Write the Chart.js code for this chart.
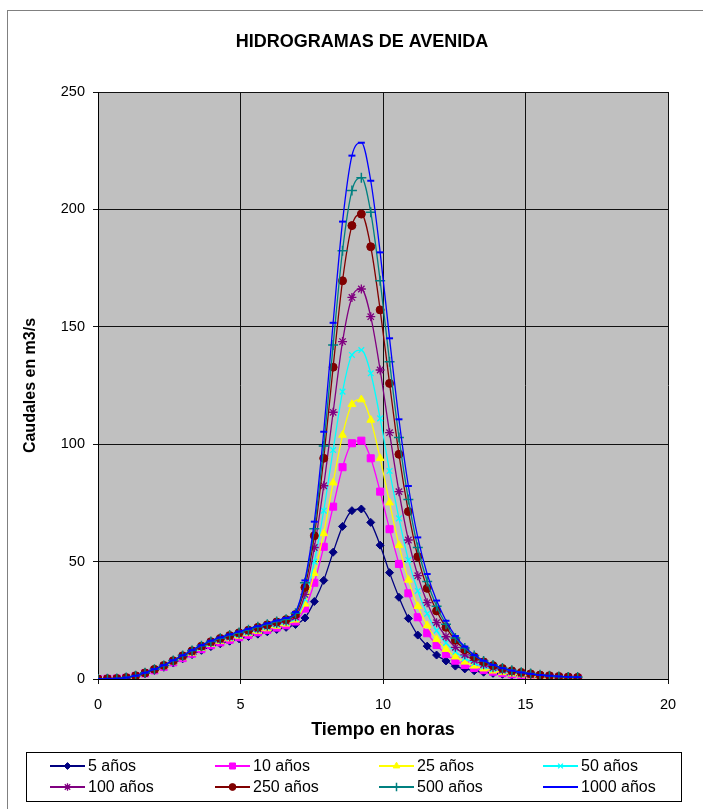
<!DOCTYPE html>
<html>
<head>
<meta charset="utf-8">
<script src="https://cdn.jsdelivr.net/npm/chart.js@4/dist/chart.umd.min.js"></script>
<style>
  html, body { margin: 0; padding: 0; background: #fff; }
  #wrap { width: 703px; height: 809px; }
</style>
</head>
<body>
<div id="wrap"><canvas id="hidro" width="703" height="809"></canvas></div>
<script>
const horas = [0, 0.33, 0.66, 0.99, 1.32, 1.65, 1.98, 2.31, 2.64, 2.97, 3.3, 3.63, 3.96, 4.29, 4.62, 4.95,
  5.28, 5.61, 5.94, 6.27, 6.6, 6.93, 7.26, 7.59, 7.92, 8.25, 8.58, 8.91, 9.24, 9.57, 9.9, 10.23, 10.56,
  10.89, 11.22, 11.55, 11.88, 12.21, 12.54, 12.87, 13.2, 13.53, 13.86, 14.19, 14.52, 14.85, 15.18, 15.51,
  15.84, 16.17, 16.5, 16.83];

const q5 = [0, 0.1, 0.2, 0.5, 1.2, 2.3, 3.6, 5.0, 6.8, 8.6, 10.4, 12.2, 13.8, 15.0, 16.1, 17.1, 18.1, 19.1, 20.1, 21.1, 22.0,
  23.2, 26.0, 33.0, 42.0, 54.0, 65.0, 71.7, 72.4, 66.7, 57.0, 45.3, 34.8, 25.8,
  18.7, 14.0, 10.2, 7.7, 5.5, 4.3, 3.5, 2.9, 2.4, 2.0, 1.6, 1.3, 1.0, 0.8, 0.6, 0.5, 0.4, 0.3];
const q10 = [0, 0.1, 0.2, 0.5, 1.2, 2.4, 3.7, 5.2, 7.1, 8.9, 10.8, 12.7, 14.4, 15.6, 16.7, 17.8, 18.8, 19.9, 20.9, 21.9, 22.9,
  24.5, 30.0, 41.0, 56.3, 73.4, 90.2, 100.4, 101.5, 94.0, 79.8, 63.8, 49.0,
  36.5, 26.3, 19.5, 14.5, 10.6, 7.8, 6.0, 4.7, 3.8, 3.1, 2.5, 2.0, 1.6, 1.3, 1.0, 0.8, 0.6, 0.5, 0.4];
const q25 = [0, 0.1, 0.2, 0.5, 1.3, 2.5, 3.9, 5.4, 7.3, 9.2, 11.1, 13.1, 14.8, 16.1, 17.2, 18.3, 19.4, 20.4, 21.5, 22.6, 23.5,
  25.2, 32.0, 45.0, 62.0, 83.6, 103.9, 117.0, 119.0, 110.3, 94.0, 75.1, 57.0,
  42.2, 31.0, 22.8, 16.9, 12.7, 9.5, 7.3, 5.6, 4.4, 3.5, 2.8, 2.2, 1.8, 1.4, 1.1, 0.9, 0.7, 0.5, 0.4];
const q50 = [0, 0.1, 0.2, 0.5, 1.3, 2.5, 3.9, 5.5, 7.4, 9.4, 11.3, 13.3, 15.0, 16.4, 17.5, 18.6, 19.7, 20.8, 21.9, 23.0, 24.0,
  25.8, 34.0, 50.0, 71.7, 97.5, 122.4, 138.0, 140.1, 130.2, 111.0, 88.6, 68.4,
  50.7, 37.5, 27.8, 20.6, 15.4, 11.6, 8.8, 6.8, 5.3, 4.2, 3.3, 2.6, 2.1, 1.7, 1.3, 1.0, 0.8, 0.6, 0.5];
const q100 = [0, 0.1, 0.2, 0.6, 1.3, 2.6, 4.0, 5.6, 7.6, 9.6, 11.6, 13.7, 15.5, 16.8, 18.0, 19.2, 20.3, 21.4, 22.5, 23.6, 24.6,
  26.5, 36.0, 56.0, 82.3, 113.6, 143.7, 162.5, 166.1, 154.3, 131.6, 104.9, 79.8,
  59.2, 44.0, 32.5, 24.0, 18.0, 13.5, 10.3, 7.9, 6.1, 4.8, 3.8, 3.0, 2.4, 1.9, 1.5, 1.2, 0.9, 0.7, 0.6];
const q250 = [0, 0.1, 0.2, 0.6, 1.4, 2.6, 4.1, 5.8, 7.8, 9.9, 12.0, 14.0, 15.9, 17.3, 18.5, 19.7, 20.8, 22.0, 23.1, 24.3, 25.3,
  27.5, 39.0, 61.0, 94.0, 132.8, 169.6, 193.1, 198.0, 184.1, 157.2, 125.9, 95.7,
  71.3, 52.1, 38.6, 29.0, 22.0, 16.5, 12.5, 9.5, 7.3, 5.7, 4.5, 3.5, 2.8, 2.2, 1.7, 1.4, 1.1, 0.9, 0.7];
const q500 = [0, 0.1, 0.2, 0.6, 1.4, 2.7, 4.2, 5.8, 7.9, 10.0, 12.1, 14.2, 16.0, 17.4, 18.7, 19.8, 21.0, 22.2, 23.3, 24.5, 25.5,
  28.0, 41.0, 64.0, 99.2, 142.2, 182.4, 208.0, 213.5, 198.8, 169.6, 135.1, 102.9,
  76.5, 56.0, 41.5, 31.0, 23.3, 17.5, 13.2, 10.0, 7.7, 6.0, 4.7, 3.7, 2.9, 2.3, 1.8, 1.4, 1.1, 0.9, 0.8];
const q1000 = [0, 0.1, 0.2, 0.6, 1.4, 2.7, 4.2, 5.9, 8.0, 10.1, 12.3, 14.4, 16.3, 17.7, 19.0, 20.2, 21.4, 22.5, 23.7, 24.9, 26.0,
  28.5, 42.0, 67.0, 105.3, 151.7, 194.8, 222.9, 228.4, 212.2, 181.7, 145.1, 110.6,
  82.2, 60.3, 44.7, 33.4, 24.8, 18.3, 13.8, 10.2, 7.8, 6.0, 4.6, 3.6, 2.8, 2.2, 1.7, 1.4, 1.1, 0.9, 0.8];

const etiquetas = ['5 años', '10 años', '25 años', '50 años', '100 años', '250 años', '500 años', '1000 años'];
const series = [q5, q10, q25, q50, q100, q250, q500, q1000];
const colores = ['#000080', '#FF00FF', '#FFFF00', '#00FFFF', '#800080', '#800000', '#008080', '#0000FF'];
const marcas = ['rectRot', 'rect', 'triangle', 'crossRot', 'star', 'circle', 'cross', 'line'];
const radios = [4, 5, 4.5, 4, 4.5, 4, 5, 3.5];
const bordes = [1, 1, 1, 1.3, 1.3, 1, 1.5, 2];

const FONT = '"Liberation Sans", Arial, sans-serif';
Chart.defaults.font.family = FONT;
Chart.defaults.color = '#000';

// legend layout (4 columns x 2 rows inside a framed box)
const legCols = [50, 215, 379, 543];
const legRows = [766, 787];

const decor = {
  id: 'decor',
  beforeDraw(chart) {
    const { ctx, chartArea: a } = chart;
    ctx.save();
    ctx.fillStyle = '#fff';
    ctx.fillRect(0, 0, chart.width, chart.height);
    ctx.strokeStyle = '#808080';
    ctx.lineWidth = 1;
    ctx.strokeRect(7.5, 10.5, 760, 860);
    ctx.fillStyle = '#C0C0C0';
    ctx.fillRect(a.left, a.top, a.right - a.left, a.bottom - a.top);
    ctx.restore();
  },
  afterDraw(chart) {
    const ctx = chart.ctx;
    ctx.save();
    // title
    ctx.fillStyle = '#000';
    ctx.font = 'bold 18px ' + FONT;
    ctx.textAlign = 'center';
    ctx.textBaseline = 'middle';
    ctx.fillText('HIDROGRAMAS DE AVENIDA', 362, 42);

    // legend box
    ctx.strokeStyle = '#000';
    ctx.lineWidth = 1;
    ctx.strokeRect(26.5, 752.5, 655, 49);
    ctx.font = '16px ' + FONT;
    ctx.textAlign = 'left';
    chart.data.datasets.forEach((ds, i) => {
      const x0 = legCols[i % 4];
      const y = legRows[Math.floor(i / 4)];
      ctx.strokeStyle = ds.borderColor;
      ctx.lineWidth = 2;
      ctx.beginPath();
      ctx.moveTo(x0, y);
      ctx.lineTo(x0 + 35, y);
      ctx.stroke();
      ctx.fillStyle = ds.pointBackgroundColor;
      ctx.strokeStyle = ds.pointBorderColor;
      ctx.lineWidth = ds.pointBorderWidth;
      Chart.helpers.drawPoint(ctx, {
        pointStyle: ds.pointStyle, rotation: 0,
        radius: ds.pointRadius * 0.85, borderWidth: ds.pointBorderWidth
      }, x0 + 17.5, y);
      ctx.fillStyle = '#000';
      ctx.fillText(ds.label, x0 + 38, y + 1);
    });
    ctx.restore();
  }
};

const datasets = series.map((vals, i) => ({
  label: etiquetas[i],
  data: horas.map((t, k) => ({ x: t, y: vals[k] })),
  borderColor: colores[i],
  borderWidth: 1.3,
  pointStyle: marcas[i],
  pointRadius: radios[i],
  pointBackgroundColor: colores[i],
  pointBorderColor: colores[i],
  pointBorderWidth: bordes[i],
  cubicInterpolationMode: 'monotone',
  fill: false,
  order: series.length - i
}));

new Chart(document.getElementById('hidro').getContext('2d'), {
  type: 'line',
  data: { datasets },
  options: {
    responsive: false,
    animation: false,
    devicePixelRatio: 1,
    layout: { padding: { top: 92, right: 35, left: 0, bottom: 68 } },
    plugins: {
      legend: { display: false },
      title: { display: false },
      tooltip: { enabled: false }
    },
    scales: {
      x: {
        type: 'linear', min: 0, max: 20,
        ticks: { stepSize: 5, padding: 12, font: { size: 14.5 }, color: '#000' },
        grid: { color: '#111', lineWidth: 1, tickLength: 5 },
        border: { color: '#000' },
        title: { display: true, text: 'Tiempo en horas', font: { size: 18, weight: 'bold' }, padding: { top: 0, bottom: 0 } },
        afterFit(s) { s.height = 62; }
      },
      y: {
        min: 0, max: 250,
        ticks: { stepSize: 50, padding: 8, font: { size: 14.5 }, color: '#000' },
        grid: { color: '#111', lineWidth: 1, tickLength: 5 },
        border: { color: '#000' },
        title: { display: true, text: 'Caudales en m3/s', font: { size: 16, weight: 'bold' }, padding: { top: 21, bottom: 0 } },
        afterFit(s) { s.width = 98; }
      }
    }
  },
  plugins: [decor]
});
</script>
</body>
</html>
